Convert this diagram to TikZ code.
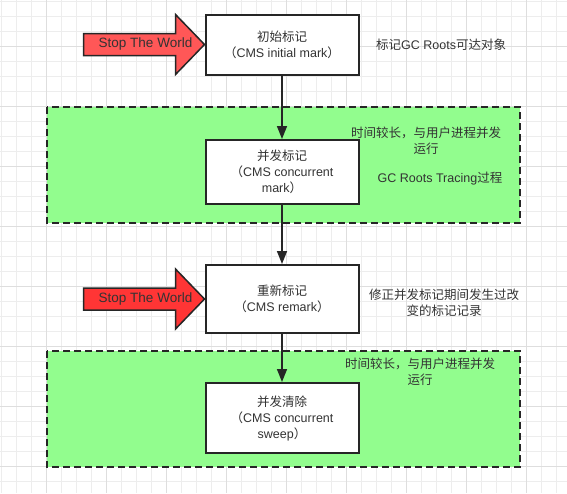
\documentclass[tikz,border=0pt]{standalone}
\usepackage{fontspec}
\setmainfont{Liberation Sans}
\newfontfamily\cjk{Noto Sans CJK SC}
\usepackage{tikz}
\usetikzlibrary{positioning,arrows.meta,calc}

\definecolor{gridminor}{HTML}{EDEDED}
\definecolor{gridmajor}{HTML}{DEDEDE}
\definecolor{zonegreen}{HTML}{92FD8E}
\definecolor{stoplight}{HTML}{FF5757}
\definecolor{stopdark}{HTML}{FF3535}
\definecolor{inkdark}{HTML}{262626}
\definecolor{txtdark}{HTML}{333333}

\begin{document}
\begin{tikzpicture}[x=1pt, y=-1pt,
    phasebox/.style={rectangle, draw=inkdark, fill=white, line width=2pt,
        minimum width=153pt, align=center, text=txtdark,
        font=\fontsize{12.5}{16}\selectfont},
    zone/.style={draw=inkdark, fill=zonegreen, line width=2pt,
        dash pattern=on 7pt off 4pt},
    flow/.style={draw=inkdark, line width=1.5pt, -{Triangle[width=10pt,length=13pt]}},
    stoparrow/.style={draw=inkdark, line width=1.5pt, line join=miter},
    note/.style={align=center, text=txtdark, inner sep=0pt,
        font=\fontsize{12.5}{16}\selectfont},
    stoptext/.style={text=txtdark, inner sep=0pt,
        font=\fontsize{13.5}{16}\selectfont}
    ]
        \useasboundingbox (0,0) rectangle (567,493);

        %Grid
        \foreach \k in {0,...,37} {
            \draw[gridminor, line width=0.8pt] (1+15*\k,0) -- (1+15*\k,493);
        }
        \foreach \k in {0,...,32} {
            \draw[gridminor, line width=0.8pt] (0,1+15*\k) -- (567,1+15*\k);
        }
        \foreach \k in {0,...,9} {
            \draw[gridmajor, line width=0.8pt] (46+60*\k,0) -- (46+60*\k,493);
            \draw[gridmajor, line width=0.8pt] (0,46+60*\k) -- (567,46+60*\k);
        }

        %Zones
        \draw[zone] (47,107) rectangle (520,223);
        \draw[zone] (47,351) rectangle (520,467);

        %Nodes
        \node[phasebox, minimum height=60pt]
            (initmark)   at (282,44.5)  {{\cjk 初始标记}\\{\cjk （}CMS initial mark{\cjk ）}};
        \node[phasebox, minimum height=64pt]
            (concmark)   at (282,172)   {{\cjk 并发标记}\\{\cjk （}CMS concurrent\\mark{\cjk ）}};
        \node[phasebox, minimum height=68pt]
            (remark)     at (282,299)   {{\cjk 重新标记}\\{\cjk （}CMS remark{\cjk ）}};
        \node[phasebox, minimum height=70pt]
            (concsweep)  at (282,418)   {{\cjk 并发清除}\\{\cjk （}CMS concurrent\\sweep{\cjk ）}};

        %Notes
        \node[note, anchor=west]
            (initnote)   at (376,45)    {{\cjk 标记}GC Roots{\cjk 可达对象}};
        \node[note]
            (marknote)   at (426,141)   {{\cjk 时间较长，与用户进程并发}\\{\cjk 运行}};
        \node[note]
            (tracenote)  at (440,179)   {GC Roots Tracing{\cjk 过程}};
        \node[note]
            (remarknote) at (444,303)   {{\cjk 修正并发标记期间发生过改}\\{\cjk 变的标记记录}};
        \node[note]
            (sweepnote)  at (420,372)   {{\cjk 时间较长，与用户进程并发}\\{\cjk 运行}};

        %Stop the world arrows
        \draw[stoparrow, fill=stoplight]
            ([shift={(-121,-11)}]initmark.west) -- ([shift={(-29,-11)}]initmark.west)
            -- ([shift={(-29,-30)}]initmark.west) -- (initmark.west)
            -- ([shift={(-29,30)}]initmark.west) -- ([shift={(-29,11)}]initmark.west)
            -- ([shift={(-121,11)}]initmark.west) -- cycle;
        \node[stoptext] (stop1) at ([shift={(-59,0)}]initmark.west) {Stop The World};

        \draw[stoparrow, fill=stopdark]
            ([shift={(-121,-11)}]remark.west) -- ([shift={(-29,-11)}]remark.west)
            -- ([shift={(-29,-30)}]remark.west) -- (remark.west)
            -- ([shift={(-29,30)}]remark.west) -- ([shift={(-29,11)}]remark.west)
            -- ([shift={(-121,11)}]remark.west) -- cycle;
        \node[stoptext] (stop2) at ([shift={(-59,0)}]remark.west) {Stop The World};

        %Lines
        \draw[flow] (initmark.south) -- (concmark.north);
        \draw[flow] (concmark.south) -- (remark.north);
        \draw[flow] (remark.south) -- (concsweep.north);
    \end{tikzpicture}
\end{document}
